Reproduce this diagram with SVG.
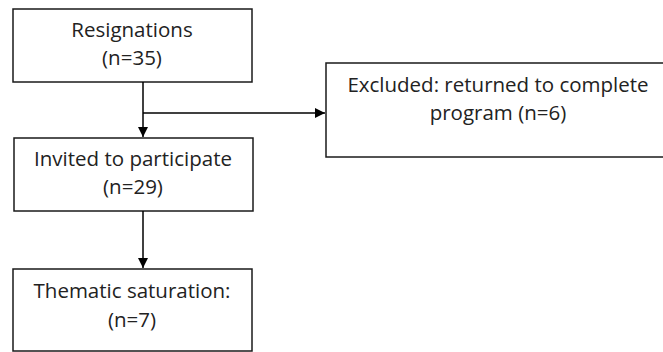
<svg xmlns="http://www.w3.org/2000/svg" width="663" height="352" viewBox="0 0 663 352">
<defs>
<style>
.box{fill:#fff;stroke:#1a1a1a;stroke-width:1.5}
.t{font-family:"Open Sans","Liberation Sans",sans-serif;font-size:20.5px;fill:#222;text-anchor:middle}
.c{stroke:#000;stroke-width:1.5;fill:none}
</style>
<marker id="ah" viewBox="0 0 10 10" refX="10" refY="5" markerWidth="10" markerHeight="10" markerUnits="userSpaceOnUse" orient="auto">
<path d="M0,0 L10,5 L0,10 z" fill="#000"/>
</marker>
</defs>
<rect width="663" height="352" fill="#fff"/>
<g id="n1">
<rect class="box" x="13" y="9" width="239" height="73"/>
<text class="t" x="132" y="37">Resignations</text>
<text class="t" x="132" y="65">(n=35)</text>
</g>
<g id="n2">
<rect class="box" x="14" y="138" width="239" height="73"/>
<text class="t" x="133" y="166">Invited to participate</text>
<text class="t" x="133" y="194">(n=29)</text>
</g>
<g id="n3">
<rect class="box" x="326" y="63" width="345" height="94"/>
<text class="t" x="498" y="92">Excluded: returned to complete</text>
<text class="t" x="498" y="120">program (n=6)</text>
</g>
<g id="n4">
<rect class="box" x="13" y="269" width="239" height="82"/>
<text class="t" x="132" y="298">Thematic saturation:</text>
<text class="t" x="132" y="327">(n=7)</text>
</g>
<g id="connectors">
<path class="c" d="M143,82 V137" marker-end="url(#ah)"/>
<path class="c" d="M143,113 H325" marker-end="url(#ah)"/>
<path class="c" d="M143,211 V268" marker-end="url(#ah)"/>
</g>
</svg>
